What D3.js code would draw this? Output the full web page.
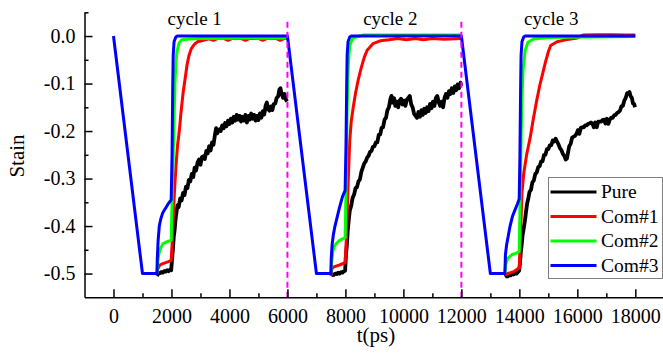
<!DOCTYPE html>
<html>
<head>
<meta charset="utf-8">
<script src="https://cdn.jsdelivr.net/npm/d3@7"></script>
<style>
  body { margin: 0; background: #fff; }
  svg { display: block; font-family: "Liberation Serif", "Times New Roman", serif; }
</style>
</head>
<body>
<div id="chart"></div>
<script>
// series names / colours
const seriesNames = ['Pure', 'Com#1', 'Com#2', 'Com#3'];
const seriesColors = ['#000000', '#ff0000', '#00ff00', '#0000ff'];

// tick labels
const xTicks = [0, 2000, 4000, 6000, 8000, 10000, 12000, 14000, 16000, 18000];
const xMinor = [1000, 3000, 5000, 7000, 9000, 11000, 13000, 15000, 17000];
const yTicks = [0, -0.1, -0.2, -0.3, -0.4, -0.5];
const yMinor = [0.05, -0.05, -0.15, -0.25, -0.35, -0.45];

// cycle markers
const cycleBounds = [6000, 12000];
const cycleLabels = ['cycle 1', 'cycle 2', 'cycle 3'];
const cycleLabelT = [2800, 9550, 15100];

// Pure (black), recovery part of each cycle
const pureC1 = [[1500,-0.505],[1550,-0.5],[1600,-0.499],[1650,-0.497],[1700,-0.498],[1750,-0.495],[1800,-0.496],[1850,-0.493],[1900,-0.495],[1950,-0.492],[1990,-0.493],
  [2020,-0.47],[2050,-0.448],[2080,-0.422],[2110,-0.408],[2140,-0.386],[2170,-0.372],[2210,-0.356],[2250,-0.36],[2300,-0.342],[2350,-0.346],[2400,-0.33],[2450,-0.335],[2500,-0.317],[2550,-0.32],[2600,-0.303],[2650,-0.306],[2700,-0.29],[2750,-0.297],[2800,-0.277],[2850,-0.283],[2900,-0.266],[2950,-0.26],[3000,-0.271],[3050,-0.255],[3100,-0.253],[3150,-0.259],[3200,-0.242],[3250,-0.247],[3300,-0.232],[3350,-0.241],[3400,-0.224],[3450,-0.229],[3500,-0.208],[3540,-0.194],[3580,-0.205],[3620,-0.198],[3660,-0.196],[3700,-0.2],[3750,-0.188],[3800,-0.194],[3850,-0.183],[3900,-0.19],[3950,-0.178],[4000,-0.185],[4050,-0.174],[4100,-0.182],[4150,-0.17],[4200,-0.178],[4250,-0.166],[4300,-0.176],[4350,-0.168],[4400,-0.18],[4450,-0.17],[4500,-0.178],[4550,-0.166],[4600,-0.182],[4650,-0.168],[4700,-0.176],[4750,-0.163],[4800,-0.174],[4850,-0.166],[4900,-0.178],[4950,-0.168],[5000,-0.177],[5050,-0.163],[5100,-0.172],[5150,-0.158],[5200,-0.165],[5250,-0.146],[5290,-0.14],[5330,-0.154],[5380,-0.157],[5430,-0.148],[5480,-0.156],[5530,-0.143],[5580,-0.142],[5630,-0.13],[5680,-0.127],[5720,-0.113],[5760,-0.11],[5800,-0.122],[5850,-0.13],[5900,-0.122],[5950,-0.134],[5990,-0.138]];
const pureC2 = [[7500,-0.505],[7550,-0.502],[7600,-0.503],[7650,-0.5],[7700,-0.501],[7750,-0.498],[7800,-0.5],[7850,-0.497],[7900,-0.498],[7950,-0.495],[7990,-0.494],
  [8020,-0.46],[8050,-0.44],[8080,-0.41],[8110,-0.39],[8150,-0.368],[8200,-0.357],[8250,-0.34],[8300,-0.334],[8350,-0.32],[8400,-0.318],[8450,-0.306],[8500,-0.302],[8550,-0.286],[8600,-0.277],[8650,-0.268],[8700,-0.264],[8750,-0.256],[8800,-0.252],[8850,-0.244],[8900,-0.242],[8950,-0.233],[9000,-0.232],[9050,-0.224],[9100,-0.224],[9150,-0.208],[9200,-0.207],[9250,-0.193],[9300,-0.192],[9350,-0.176],[9400,-0.172],[9450,-0.156],[9500,-0.15],[9550,-0.133],[9590,-0.126],[9630,-0.14],[9680,-0.131],[9720,-0.147],[9770,-0.138],[9820,-0.15],[9870,-0.136],[9920,-0.132],[9970,-0.144],[10020,-0.136],[10070,-0.147],[10120,-0.134],[10170,-0.13],[10220,-0.126],[10270,-0.144],[10320,-0.15],[10370,-0.164],[10420,-0.168],[10470,-0.172],[10520,-0.16],[10570,-0.17],[10620,-0.156],[10670,-0.166],[10720,-0.153],[10770,-0.162],[10820,-0.15],[10870,-0.158],[10920,-0.143],[10970,-0.152],[11020,-0.138],[11070,-0.147],[11120,-0.13],[11170,-0.126],[11220,-0.14],[11270,-0.147],[11320,-0.138],[11370,-0.15],[11420,-0.13],[11470,-0.122],[11520,-0.13],[11570,-0.116],[11620,-0.122],[11670,-0.11],[11720,-0.12],[11770,-0.106],[11820,-0.114],[11870,-0.102],[11920,-0.11],[11970,-0.098],[11995,-0.105]];
const pureC3 = [[13500,-0.507],[13550,-0.505],[13600,-0.506],[13650,-0.503],[13700,-0.504],[13750,-0.501],[13800,-0.502],[13850,-0.5],[13900,-0.5],[13950,-0.497],[13990,-0.494],
  [14020,-0.48],[14050,-0.455],[14080,-0.44],[14110,-0.42],[14150,-0.405],[14190,-0.39],[14230,-0.37],[14270,-0.352],[14310,-0.342],[14350,-0.328],[14400,-0.324],[14450,-0.308],[14500,-0.304],[14550,-0.29],[14600,-0.287],[14650,-0.276],[14700,-0.274],[14750,-0.264],[14800,-0.264],[14850,-0.25],[14900,-0.25],[14950,-0.238],[15000,-0.238],[15050,-0.23],[15100,-0.23],[15150,-0.22],[15200,-0.222],[15250,-0.216],[15300,-0.222],[15350,-0.228],[15400,-0.236],[15450,-0.24],[15500,-0.248],[15550,-0.252],[15600,-0.26],[15640,-0.258],[15680,-0.245],[15720,-0.232],[15770,-0.227],[15820,-0.214],[15870,-0.212],[15920,-0.21],[15970,-0.206],[16020,-0.198],[16070,-0.206],[16120,-0.193],[16170,-0.192],[16220,-0.192],[16270,-0.188],[16320,-0.188],[16370,-0.185],[16420,-0.184],[16470,-0.182],[16520,-0.184],[16570,-0.192],[16620,-0.182],[16670,-0.192],[16720,-0.18],[16770,-0.18],[16820,-0.18],[16870,-0.177],[16920,-0.176],[16970,-0.184],[17020,-0.174],[17070,-0.185],[17120,-0.176],[17170,-0.172],[17220,-0.172],[17270,-0.167],[17320,-0.166],[17370,-0.162],[17420,-0.16],[17470,-0.157],[17520,-0.148],[17570,-0.147],[17620,-0.136],[17670,-0.13],[17720,-0.12],[17770,-0.12],[17800,-0.118],[17840,-0.127],[17880,-0.13],[17920,-0.142],[17960,-0.143],[17990,-0.15]];

// Com#1 (red)
const com1C1 = [[1500,-0.5],[1530,-0.49],[1600,-0.482],[1700,-0.479],[1800,-0.477],[1900,-0.475],[1990,-0.472],[2030,-0.43],[2070,-0.37],[2110,-0.32],[2160,-0.27],[2210,-0.23],[2270,-0.2],[2330,-0.16],[2400,-0.12],[2470,-0.09],[2540,-0.06],[2600,-0.042],[2680,-0.027],[2780,-0.018],[2900,-0.012],[3100,-0.009],[3300,-0.006],[3450,-0.009],[3600,-0.005],[3800,-0.005],[3950,-0.009],[4100,-0.005],[4400,-0.005],[4550,-0.009],[4700,-0.005],[5000,-0.005],[5150,-0.009],[5300,-0.005],[5600,-0.005],[5750,-0.009],[5900,-0.005],[6000,-0.005]];
const com1C2 = [[7500,-0.505],[7530,-0.49],[7600,-0.486],[7800,-0.482],[7990,-0.477],[8030,-0.43],[8100,-0.3],[8150,-0.22],[8200,-0.18],[8270,-0.15],[8350,-0.12],[8450,-0.09],[8550,-0.066],[8650,-0.045],[8750,-0.03],[8950,-0.016],[9200,-0.01],[9500,-0.008],[9800,-0.005],[10100,-0.008],[10400,-0.005],[10700,-0.008],[11000,-0.005],[11400,-0.007],[12000,-0.005]];
const com1C3 = [[13500,-0.503],[13600,-0.5],[13800,-0.496],[13950,-0.49],[14000,-0.488],[14040,-0.42],[14090,-0.33],[14150,-0.29],[14250,-0.25],[14370,-0.215],[14480,-0.175],[14600,-0.135],[14700,-0.105],[14800,-0.08],[14900,-0.055],[15000,-0.033],[15080,-0.02],[15300,-0.012],[15600,-0.008],[16000,-0.004],[16200,0.002],[16700,0.003],[17200,0.003],[17600,0.002],[18000,0.002]];

// Com#2 (green)
const com2C1 = [[1500,-0.5],[1520,-0.48],[1560,-0.46],[1620,-0.447],[1700,-0.438],[1800,-0.434],[1900,-0.432],[1990,-0.43],[2040,-0.3],[2080,-0.2],[2120,-0.1],[2160,-0.05],[2200,-0.03],[2260,-0.015],[2350,-0.008],[2600,-0.006],[3000,-0.005],[6000,-0.004]];
const com2C2 = [[7500,-0.5],[7520,-0.48],[7560,-0.455],[7620,-0.442],[7700,-0.436],[7800,-0.43],[7900,-0.427],[7990,-0.425],[8030,-0.3],[8060,-0.15],[8100,-0.06],[8150,-0.02],[8250,-0.004],[8600,0.002],[12000,0.002]];
const com2C3 = [[13500,-0.5],[13530,-0.48],[13600,-0.468],[13750,-0.46],[13900,-0.457],[13995,-0.454],[14040,-0.3],[14080,-0.15],[14130,-0.07],[14200,-0.03],[14300,-0.013],[14500,-0.006],[15000,-0.003],[18000,-0.001]];

// Com#3 (blue), one continuous path
const com3 = [[0,0],[1000,-0.5],[1500,-0.5],[1510,-0.47],[1540,-0.43],[1580,-0.4],[1630,-0.385],[1700,-0.372],[1800,-0.362],[1900,-0.352],[1990,-0.345],[2020,-0.25],[2045,-0.1],[2060,-0.04],[2090,-0.012],[2150,-0.002],[2200,0],
  [6000,0],[7000,-0.5],[7500,-0.5],[7510,-0.47],[7540,-0.44],[7580,-0.42],[7640,-0.4],[7720,-0.38],[7800,-0.36],[7900,-0.338],[7990,-0.325],[8020,-0.23],[8045,-0.1],[8060,-0.04],[8090,-0.012],[8150,-0.002],[8200,0],
  [12000,0],[13000,-0.5],[13500,-0.5],[13520,-0.46],[13560,-0.44],[13620,-0.42],[13680,-0.4],[13760,-0.38],[13850,-0.366],[13930,-0.354],[13995,-0.343],[14020,-0.25],[14045,-0.1],[14060,-0.04],[14090,-0.012],[14150,-0.002],[14200,0],[18000,0]];

const seriesData = [[pureC1, pureC2, pureC3], [com1C1, com1C2, com1C3], [com2C1, com2C2, com2C3], [com3]];

const width = 663;
const height = 353;

const svg = d3.select('#chart')
  .append('svg')
  .attr('width', width)
  .attr('height', height);

const x = d3.scaleLinear()
  .domain([-1000, 19000])
  .range([84.5, 664.3]);

const y = d3.scaleLinear()
  .domain([-0.55, 0.05])
  .range([297.3, 12.3]);

// lines
const line = d3.line()
  .x(d => x(d[0]))
  .y(d => y(d[1]));

seriesData.forEach((segs, i) => {
  svg.append('g')
    .selectAll('path')
    .data(segs)
    .join('path')
    .attr('d', line)
    .attr('fill', 'none')
    .attr('stroke', seriesColors[i])
    .attr('stroke-width', i === 0 ? 3.8 : 3)
    .attr('stroke-linejoin', 'round');
});

// dashed cycle separators
svg.append('g')
  .selectAll('line')
  .data(cycleBounds)
  .join('line')
  .attr('x1', d => x(d))
  .attr('x2', d => x(d))
  .attr('y1', y(0.03))
  .attr('y2', y(-0.55))
  .attr('stroke', '#ff00ff')
  .attr('stroke-width', 2)
  .attr('stroke-dasharray', '6,4');

// cycle labels
svg.append('g')
  .selectAll('text')
  .data(cycleLabels)
  .join('text')
  .attr('x', (d, i) => x(cycleLabelT[i]))
  .attr('y', y(0.023))
  .attr('text-anchor', 'middle')
  .style('font-size', '19px')
  .text(d => d);

// x axis
const xAxis = svg.append('g')
  .attr('transform', `translate(0,${y(-0.55)})`);
xAxis.call(d3.axisBottom(x).tickValues(xTicks).tickSize(-8).tickSizeOuter(0).tickPadding(12).tickFormat(d => d));
xAxis.append('g').call(d3.axisBottom(x).tickValues(xMinor).tickSize(-4).tickSizeOuter(0).tickFormat(''))
  .select('.domain').remove();
xAxis.selectAll('line, path').attr('stroke', '#000').attr('stroke-width', 1.5);
xAxis.selectAll('text').attr('fill', '#000').style('font-size', '20px').style('font-family', '"Liberation Serif", serif');

// y axis
const yAxis = svg.append('g')
  .attr('transform', `translate(${x(-1000)},0)`);
yAxis.call(d3.axisLeft(y).tickValues(yTicks).tickSize(-8).tickSizeOuter(0).tickPadding(9).tickFormat(d => d.toFixed(1)));
yAxis.append('g').call(d3.axisLeft(y).tickValues(yMinor).tickSize(-4).tickSizeOuter(0).tickFormat(''))
  .select('.domain').remove();
yAxis.selectAll('line, path').attr('stroke', '#000').attr('stroke-width', 1.5);
yAxis.selectAll('text').attr('fill', '#000').style('font-size', '20px').style('font-family', '"Liberation Serif", serif');

// axis titles
svg.append('text')
  .attr('x', 376)
  .attr('y', 342)
  .attr('text-anchor', 'middle')
  .style('font-size', '21px')
  .text('t(ps)');

svg.append('text')
  .attr('transform', 'translate(24,156) rotate(-90)')
  .attr('text-anchor', 'middle')
  .style('font-size', '21px')
  .text('Stain');

// legend
const legend = svg.append('g')
  .attr('transform', 'translate(548.5,177.5)');

legend.append('rect')
  .attr('width', 114)
  .attr('height', 101)
  .attr('fill', '#fff')
  .attr('stroke', '#808080')
  .attr('stroke-width', 1);

seriesNames.forEach((name, i) => {
  const g = legend.append('g').attr('transform', `translate(0,${14.5 + i * 24.5})`);
  g.append('line')
    .attr('x1', 2)
    .attr('x2', 48)
    .attr('stroke', seriesColors[i])
    .attr('stroke-width', 3);
  g.append('text')
    .attr('x', 52.5)
    .attr('y', 6)
    .style('font-size', '19.5px')
    .text(name);
});
</script>
</body>
</html>
